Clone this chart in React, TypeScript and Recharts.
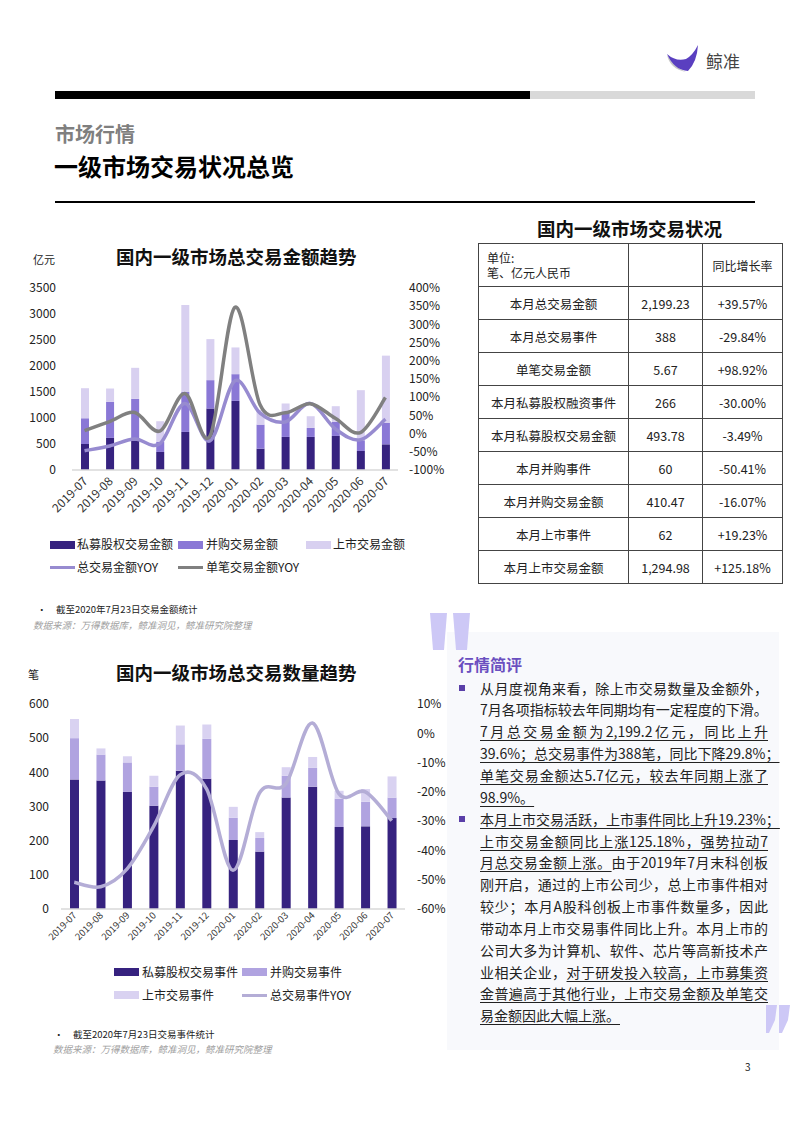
import React from "react";
import { ComposedChart, Bar, Line, XAxis, YAxis } from "recharts";

// 月份
const months = [
  "2019-07", "2019-08", "2019-09", "2019-10", "2019-11", "2019-12", "2020-01",
  "2020-02", "2020-03", "2020-04", "2020-05", "2020-06", "2020-07",
];

// 交易金额（亿元）
const peAmount = [500, 617, 559, 347, 732, 1183, 1329, 411, 636, 636, 655, 366, 493.78];
const maAmount = [495, 693, 809, 192, 770, 545, 514, 462, 462, 173, 269, 206, 410.47];
const ipoAmount = [578, 257, 597, 399, 1670, 789, 514, 283, 181, 225, 303, 963, 1294.98];
const totalAmountYoy = [-47, -34, -15, -28, 83, -20, 145, 56, 32, 83, 13, -17, 39.57];
const singleAmountYoy = [8, 33, 58, 7, 110, -7, 347, 79, 57, 82, 42, 3, 98.92];

// 交易事件（笔）
const peCount = [379, 376, 343, 302, 405, 381, 202, 168, 326, 358, 240, 242, 266];
const maCount = [121, 76, 86, 56, 77, 117, 65, 40, 64, 55, 83, 72, 60];
const ipoCount = [56, 18, 18, 32, 55, 42, 32, 17, 25, 32, 23, 37, 62];
const totalCountYoy = [-50.9, -52.4, -46.3, -31.8, -14.2, -19, -46.8, -20.4, -17.2, 3.5, -20.6, -20, -29.84];

const amountTicks = [0, 500, 1000, 1500, 2000, 2500, 3000, 3500];
const amountYoyTicks = [-100, -50, 0, 50, 100, 150, 200, 250, 300, 350, 400];
const countTicks = [0, 100, 200, 300, 400, 500, 600];
const countYoyTicks = [-60, -50, -40, -30, -20, -10, 0, 10];

// 表格
const tableRows = [
  ["本月总交易金额", "2,199.23", "+39.57%"],
  ["本月总交易事件", "388", "-29.84%"],
  ["单笔交易金额", "5.67", "+98.92%"],
  ["本月私募股权融资事件", "266", "-30.00%"],
  ["本月私募股权交易金额", "493.78", "-3.49%"],
  ["本月并购事件", "60", "-50.41%"],
  ["本月并购交易金额", "410.47", "-16.07%"],
  ["本月上市事件", "62", "+19.23%"],
  ["本月上市交易金额", "1,294.98", "+125.18%"],
];

const amountData = months.map((m, i) => ({
  month: m,
  pe: peAmount[i],
  ma: maAmount[i],
  ipo: ipoAmount[i],
  totalYoy: totalAmountYoy[i],
  singleYoy: singleAmountYoy[i],
}));

const countData = months.map((m, i) => ({
  month: m,
  pe: peCount[i],
  ma: maCount[i],
  ipo: ipoCount[i],
  yoy: totalCountYoy[i],
}));

// Excel 风格的平滑曲线 (catmull-rom)
const smoothCurve = (context: any) => {
  let pts: number[][] = [];
  return {
    areaStart() {},
    areaEnd() {},
    lineStart() {
      pts = [];
    },
    point(x: number, y: number) {
      pts.push([+x, +y]);
    },
    lineEnd() {
      if (!pts.length) return;
      context.moveTo(pts[0][0], pts[0][1]);
      const t = 1 / 6;
      for (let i = 0; i < pts.length - 1; i++) {
        const p0 = pts[i - 1] || pts[i];
        const p1 = pts[i];
        const p2 = pts[i + 1];
        const p3 = pts[i + 2] || p2;
        context.bezierCurveTo(
          p1[0] + (p2[0] - p0[0]) * t,
          p1[1] + (p2[1] - p0[1]) * t,
          p2[0] - (p3[0] - p1[0]) * t,
          p2[1] - (p3[1] - p1[1]) * t,
          p2[0],
          p2[1]
        );
      }
    },
  };
};

const makeTick = (fs: number, dx: number, dy: number) => (props: any) => {
  const { x, y, payload } = props;
  return (
    <g transform={`translate(${x + dx},${y + dy})`}>
      <text textAnchor="end" transform="rotate(-45)" fontSize={fs} fill="#333">
        {payload.value}
      </text>
    </g>
  );
};

const T = ({ x, y, size = 12, children, style = {} }: any) => (
  <div
    style={{
      position: "absolute",
      left: x,
      top: y - size * 0.7,
      fontSize: size,
      lineHeight: `${size * 1.4}px`,
      whiteSpace: "nowrap",
      ...style,
    }}
  >
    {children}
  </div>
);

const Swatch = ({ x, y, w = 25, h = 8, color }: any) => (
  <div
    style={{
      position: "absolute",
      left: x,
      top: y - h / 2,
      width: w,
      height: h,
      background: color,
    }}
  />
);

const u = { textDecoration: "underline", textUnderlineOffset: 3 } as React.CSSProperties;

const commentLines: { y: number; j?: boolean; node: React.ReactNode }[] = [
  { y: 688, j: true, node: "从月度视角来看，除上市交易数量及金额外，" },
  { y: 709, node: "7月各项指标较去年同期均有一定程度的下滑。" },
  { y: 731, j: true, node: <span style={u}>7月总交易金额为2,199.2亿元，同比上升</span> },
  { y: 753, node: <span style={u}>39.6%；总交易事件为388笔，同比下降29.8%；</span> },
  { y: 775, j: true, node: <span style={u}>单笔交易金额达5.7亿元，较去年同期上涨了</span> },
  { y: 797, node: <span style={u}>98.9%。</span> },
  { y: 819, node: <span style={u}>本月上市交易活跃，上市事件同比上升19.23%；</span> },
  { y: 841, j: true, node: <span style={u}>上市交易金额同比上涨125.18%，强势拉动7</span> },
  { y: 862, j: true, node: <><span style={u}>月总交易金额上涨。</span>由于2019年7月末科创板</> },
  { y: 884, j: true, node: "刚开启，通过的上市公司少，总上市事件相对" },
  { y: 906, j: true, node: "较少；本月A股科创板上市事件数量多，因此" },
  { y: 928, j: true, node: "带动本月上市交易事件同比上升。本月上市的" },
  { y: 950, j: true, node: "公司大多为计算机、软件、芯片等高新技术产" },
  { y: 972, j: true, node: <>业相关企业，<span style={u}>对于研发投入较高，上市募集资</span></> },
  { y: 993, j: true, node: <span style={u}>金普遍高于其他行业，上市交易金额及单笔交</span> },
  { y: 1015, node: <span style={u}>易金额因此大幅上涨。</span> },
];

const cell = { border: "1.2px solid #444", padding: 0, boxSizing: "border-box" } as React.CSSProperties;

export default function App() {
  return (
    <div
      style={{
        position: "absolute",
        left: 0,
        top: 0,
        width: 797,
        height: 1126,
        background: "#fff",
        overflow: "hidden",
        color: "#222",
        fontFamily: '"Noto Sans CJK SC", "Noto Sans", sans-serif',
      }}
    >
      {/* 页眉 */}
      <svg style={{ position: "absolute", left: 664, top: 42 }} width={40} height={32}>
        <path d="M3 13 Q 6 27 22 30 Q 10 25 3 13 Z" fill="#c8c8c8" />
        <path d="M3 12 Q 12 20 22 17 Q 29 13 34 3 Q 33 20 24 29 Q 10 28 3 12 Z" fill="#5a3fc0" />
      </svg>
      <T x={706} y={61} size={17} style={{ color: "#444" }}>鲸准</T>
      <div style={{ position: "absolute", left: 55, top: 91, width: 475, height: 8, background: "#000" }} />
      <div style={{ position: "absolute", left: 530, top: 91, width: 225, height: 8, background: "#d9d9d9" }} />
      <T x={55} y={134} size={20} style={{ color: "#7f7f7f", fontWeight: 700 }}>市场行情</T>
      <T x={54} y={166} size={24} style={{ color: "#000", fontWeight: 700 }}>一级市场交易状况总览</T>
      <div style={{ position: "absolute", left: 55, top: 201, width: 700, height: 1.5, background: "#000" }} />

      {/* 上图：交易金额 */}
      <T x={116} y={257} size={18.5} style={{ fontWeight: 700, color: "#111" }}>国内一级市场总交易金额趋势</T>
      <T x={33} y={260} size={11}>亿元</T>
      <div style={{ position: "absolute", left: 20, top: 270 }}>
        <ComposedChart width={430} height={270} data={amountData} margin={{ top: 18, right: 0, left: 0, bottom: 0 }}>
          <XAxis
            dataKey="month"
            interval={0}
            height={70}
            tickSize={0}
            tickMargin={6}
            axisLine={{ stroke: "#d9d9d9", strokeWidth: 1.5 }}
            tick={makeTick(12, 4, 6)}
          />
          <YAxis
            yAxisId="l"
            width={52}
            domain={[0, 3500]}
            ticks={amountTicks}
            interval={0}
            axisLine={false}
            tickLine={false}
            tickSize={0}
            tickMargin={16}
            tick={{ fontSize: 12, fill: "#222" }}
          />
          <YAxis
            yAxisId="r"
            orientation="right"
            width={52}
            domain={[-100, 400]}
            ticks={amountYoyTicks}
            interval={0}
            axisLine={false}
            tickLine={false}
            tickSize={0}
            tickMargin={11}
            tickFormatter={(v) => `${v}%`}
            tick={{ fontSize: 12, fill: "#222" }}
          />
          <Bar yAxisId="l" dataKey="pe" stackId="a" fill="#36227f" barSize={8} isAnimationActive={false} />
          <Bar yAxisId="l" dataKey="ma" stackId="a" fill="#8a78d6" barSize={8} isAnimationActive={false} />
          <Bar yAxisId="l" dataKey="ipo" stackId="a" fill="#d8d0f0" barSize={8} isAnimationActive={false} />
          <Line yAxisId="r" dataKey="totalYoy" type={smoothCurve as any} stroke="#978bd0" strokeWidth={3.5} dot={false} isAnimationActive={false} />
          <Line yAxisId="r" dataKey="singleYoy" type={smoothCurve as any} stroke="#808080" strokeWidth={3.5} dot={false} isAnimationActive={false} />
        </ComposedChart>
      </div>
      <Swatch x={50} y={544.5} color="#36227f" />
      <T x={77} y={544.5} size={12}>私募股权交易金额</T>
      <Swatch x={178} y={544.5} color="#8a78d6" />
      <T x={206} y={544.5} size={12}>并购交易金额</T>
      <Swatch x={306} y={544.5} color="#d8d0f0" />
      <T x={333} y={544.5} size={12}>上市交易金额</T>
      <Swatch x={50} y={567} h={3} color="#978bd0" />
      <T x={77} y={567} size={12}>总交易金额YOY</T>
      <Swatch x={178} y={567} h={3} color="#808080" />
      <T x={206} y={567} size={12}>单笔交易金额YOY</T>
      <T x={37} y={610} size={9.5}>•</T>
      <T x={56} y={610} size={9.5}>截至2020年7月23日交易金额统计</T>
      <T x={33} y={626} size={9.5} style={{ color: "#a0a0a0", fontStyle: "italic" }}>数据来源：万得数据库，鲸准洞见，鲸准研究院整理</T>

      {/* 右上表格 */}
      <T x={537} y={229} size={18.5} style={{ fontWeight: 700, color: "#111" }}>国内一级市场交易状况</T>
      <table
        style={{
          position: "absolute",
          left: 478,
          top: 243,
          width: 304,
          borderCollapse: "collapse",
          fontSize: 12.5,
          color: "#222",
          tableLayout: "fixed",
        }}
      >
        <colgroup>
          <col style={{ width: 150 }} />
          <col style={{ width: 74 }} />
          <col style={{ width: 80 }} />
        </colgroup>
        <tbody>
          <tr style={{ height: 43 }}>
            <td style={{ ...cell, paddingLeft: 8, fontSize: 12, lineHeight: "15px" }}>
              单位:
              <br />
              笔、亿元人民币
            </td>
            <td style={cell} />
            <td style={{ ...cell, textAlign: "center", fontSize: 12 }}>同比增长率</td>
          </tr>
          {tableRows.map((r) => (
            <tr key={r[0]} style={{ height: 33 }}>
              {r.map((c, k) => (
                <td key={k} style={{ ...cell, textAlign: "center", whiteSpace: "nowrap" }}>
                  {c}
                </td>
              ))}
            </tr>
          ))}
        </tbody>
      </table>

      {/* 下图：交易数量 */}
      <T x={116} y={673} size={18.5} style={{ fontWeight: 700, color: "#111" }}>国内一级市场总交易数量趋势</T>
      <T x={28} y={675} size={11}>笔</T>
      <div style={{ position: "absolute", left: 20, top: 690 }}>
        <ComposedChart width={430} height={270} data={countData} margin={{ top: 14, right: 0, left: 0, bottom: 0 }}>
          <XAxis
            dataKey="month"
            interval={0}
            height={51}
            tickSize={0}
            tickMargin={4}
            axisLine={{ stroke: "#d9d9d9", strokeWidth: 1.5 }}
            tick={makeTick(9.5, 3, 3)}
          />
          <YAxis
            yAxisId="l"
            width={41}
            domain={[0, 600]}
            ticks={countTicks}
            interval={0}
            axisLine={false}
            tickLine={false}
            tickSize={0}
            tickMargin={12}
            tick={{ fontSize: 12, fill: "#222" }}
          />
          <YAxis
            yAxisId="r"
            orientation="right"
            width={45}
            domain={[-60, 10]}
            ticks={countYoyTicks}
            interval={0}
            axisLine={false}
            tickLine={false}
            tickSize={0}
            tickMargin={12}
            tickFormatter={(v) => `${v}%`}
            tick={{ fontSize: 12, fill: "#222" }}
          />
          <Bar yAxisId="l" dataKey="pe" stackId="a" fill="#36227f" barSize={9} isAnimationActive={false} />
          <Bar yAxisId="l" dataKey="ma" stackId="a" fill="#b0a3e0" barSize={9} isAnimationActive={false} />
          <Bar yAxisId="l" dataKey="ipo" stackId="a" fill="#d9d2f1" barSize={9} isAnimationActive={false} />
          <Line yAxisId="r" dataKey="yoy" type={smoothCurve as any} stroke="#b4add6" strokeWidth={3.5} dot={false} isAnimationActive={false} />
        </ComposedChart>
      </div>
      <Swatch x={114} y={972} color="#36227f" />
      <T x={142} y={972} size={12}>私募股权交易事件</T>
      <Swatch x={242} y={972} color="#b0a3e0" />
      <T x={270} y={972} size={12}>并购交易事件</T>
      <Swatch x={114} y={995} color="#d9d2f1" />
      <T x={142} y={995} size={12}>上市交易事件</T>
      <Swatch x={242} y={995} h={3} color="#b4add6" />
      <T x={270} y={995} size={12}>总交易事件YOY</T>
      <T x={54} y={1035} size={9.5}>•</T>
      <T x={73} y={1035} size={9.5}>截至2020年7月23日交易事件统计</T>
      <T x={53} y={1050} size={9.5} style={{ color: "#a0a0a0", fontStyle: "italic" }}>数据来源：万得数据库，鲸准洞见，鲸准研究院整理</T>

      {/* 行情简评 */}
      <div style={{ position: "absolute", left: 447, top: 632, width: 332, height: 418, background: "#f8f9fc" }} />
      <svg style={{ position: "absolute", left: 0, top: 0 }} width={797} height={1126}>
        <polygon points="430,613 447,613 444,650 433,650" fill="#cdc8f6" />
        <polygon points="453,613 470,613 467,650 456,650" fill="#cdc8f6" />
        <polygon points="766,1005 777,1005 775,1020 769,1033 766,1033" fill="#cdc8f6" />
        <polygon points="779,1005 790,1005 788,1020 782,1033 779,1033" fill="#cdc8f6" />
        <rect x={459} y={685} width={6} height={6} fill="#5a3fa8" />
        <rect x={459} y={816} width={6} height={6} fill="#5a3fa8" />
      </svg>
      <T x={458} y={664} size={16} style={{ color: "#6a4fc0", fontWeight: 700 }}>行情简评</T>
      {commentLines.map((l, i) => (
        <div
          key={i}
          style={{
            position: "absolute",
            left: 480,
            top: l.y - 10,
            width: l.j ? 288 : undefined,
            fontSize: 14,
            lineHeight: "20px",
            whiteSpace: "nowrap",
            textAlign: l.j ? "justify" : "left",
            textAlignLast: l.j ? "justify" : "auto",
            color: "#222",
          }}
        >
          {l.node}
        </div>
      ))}

      <T x={745} y={1067} size={10}>3</T>
    </div>
  );
}
